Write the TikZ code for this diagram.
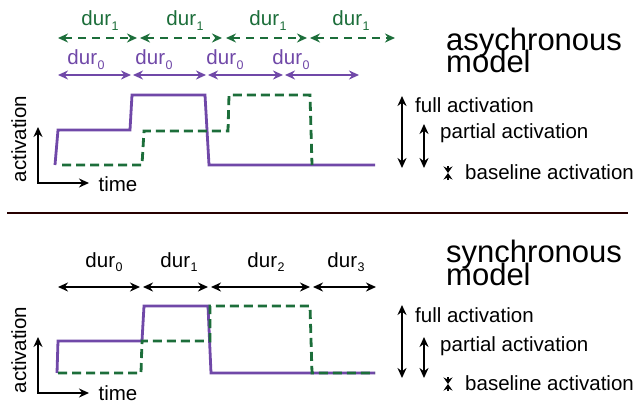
\documentclass[tikz,border=0pt]{standalone}
\usepackage{fontspec}
\setmainfont{Liberation Sans}
\usetikzlibrary{arrows.meta}
\definecolor{pur}{RGB}{112,72,168}
\definecolor{grn}{RGB}{28,110,58}
\newcommand\sbx[1]{\hspace{0.5pt}\raisebox{-0.45ex}{\fontsize{12.5}{12.5}\selectfont #1}}
\newcommand\ttlfont{\fontsize{31}{22.5}\selectfont\lineskiplimit -60pt\relax\lineskip 0pt\relax}
\begin{document}
\begin{tikzpicture}[x=1pt,y=-1pt,
  lbl/.style={inner sep=0pt,anchor=base,font=\fontsize{20.5}{20.5}\selectfont},
  leg/.style={inner sep=0pt,anchor=base west,font=\fontsize{20.5}{20.5}\selectfont},
  ttl/.style={inner sep=0pt,anchor=base west,align=left,font=\ttlfont},
  dbl/.style={{Stealth[length=10pt,width=9pt]}-{Stealth[length=10pt,width=9pt]}},
  garr/.style={dbl,grn,line width=2.2pt,dash pattern=on 8pt off 6pt},
  parr/.style={dbl,pur,line width=2pt},
  barr/.style={dbl,black,line width=2pt},
  axis/.style={dbl,black,line width=2.2pt},
  pcurve/.style={pur,line width=2.8pt,line join=miter},
  gcurve/.style={grn,line width=2.8pt,dash pattern=on 9pt off 5pt},
  legarr/.style={dbl,black,line width=2pt},
  hg/.style={-{Stealth[length=6.5pt,width=9pt]},black,line width=1.2pt}]
\useasboundingbox (0,0) rectangle (637,404);
\fill[white] (0,0) rectangle (637,404);

% ---------- top panel ----------
\foreach \n/\a/\b in {1/58/137,2/140/222,3/226/307,4/310/395}{
  \coordinate (ga\n) at (\a,38); \coordinate (gb\n) at (\b,38);
  \draw[garr] (ga\n) -- (gb\n);}
\foreach \n/\x in {1/100,2/185,3/268,4/351}{
  \node[lbl,text=grn] (gl\n) at (\x,26) {dur\sbx{1}};}
\foreach \n/\a/\b in {1/58/131,2/133/206,3/208/283,4/285/359}{
  \coordinate (pa\n) at (\a,75); \coordinate (pb\n) at (\b,75);
  \draw[parr] (pa\n) -- (pb\n);}
\foreach \n/\x in {1/86,2/154,3/225,4/291}{
  \node[lbl,text=pur] (pl\n) at (\x,65) {dur\sbx{0}};}

\draw[pcurve] (55,165) -- (58,130) -- (130,130) -- (132,95) -- (205,95) -- (209,165) -- (375,165);
\draw[gcurve] (62,165) -- (142,165) -- (144,131) -- (228,131) -- (229,95) -- (310,95) -- (312,165);

\coordinate (ay1) at (38,127); \coordinate (ao1) at (38,183); \coordinate (ax1) at (89,183);
\draw[axis] (ay1) -- (ao1) -- (ax1);
\node[lbl] (time1) at (118,191) {time};
\node[lbl,rotate=90,anchor=base] (act1) at (26,139) {activation};

\node[ttl] (title1) at (446,73) {asychronous\\model};

\coordinate (fa1) at (402,96); \coordinate (fb1) at (402,168);
\draw[legarr] (fa1) -- (fb1);
\coordinate (ma1) at (424,124); \coordinate (mb1) at (424,168);
\draw[legarr] (ma1) -- (mb1);
\coordinate (ht1) at (448,166); \coordinate (hm1) at (448,173); \coordinate (hb1) at (448,180);
\draw[hg] (ht1) -- (hm1); \draw[hg] (hb1) -- (hm1);
\node[leg] (full1) at (415,112) {full activation};
\node[leg] (part1) at (440,138) {partial activation};
\node[leg] (base1) at (465,179) {baseline activation};

% ---------- separator ----------
\coordinate (s1) at (7,213); \coordinate (s2) at (628,213);
\draw[line width=1.3pt,black!85!red] (s1) -- (s2);

% ---------- bottom panel ----------
\foreach \n/\a/\b in {1/58/140,2/143/208,3/211/310,4/313/376}{
  \coordinate (ba\n) at (\a,287); \coordinate (bb\n) at (\b,287);
  \draw[barr] (ba\n) -- (bb\n);}
\node[lbl] (bl1) at (104,267) {dur\sbx{0}};
\node[lbl] (bl2) at (179,267) {dur\sbx{1}};
\node[lbl] (bl3) at (266,267) {dur\sbx{2}};
\node[lbl] (bl4) at (346,267) {dur\sbx{3}};

\draw[pcurve] (57,373) -- (58,341) -- (142,341) -- (144,306) -- (208,306) -- (211,373) -- (375,373);
\draw[gcurve] (58,373) -- (141,373) -- (142,341) -- (210,341) -- (210,306) -- (310,306) -- (312,373) -- (375,373);

\coordinate (ay2) at (38,337); \coordinate (ao2) at (38,393); \coordinate (ax2) at (89,393);
\draw[axis] (ay2) -- (ao2) -- (ax2);
\node[lbl] (time2) at (118,400) {time};
\node[lbl,rotate=90,anchor=base] (act2) at (26,350) {activation};

\node[ttl] (title2) at (446,285) {synchronous\\model};

\coordinate (fa2) at (402,305); \coordinate (fb2) at (402,378);
\draw[legarr] (fa2) -- (fb2);
\coordinate (ma2) at (424,337); \coordinate (mb2) at (424,378);
\draw[legarr] (ma2) -- (mb2);
\coordinate (ht2) at (448,377); \coordinate (hm2) at (448,384); \coordinate (hb2) at (448,391);
\draw[hg] (ht2) -- (hm2); \draw[hg] (hb2) -- (hm2);
\node[leg] (full2) at (415,322) {full activation};
\node[leg] (part2) at (440,351) {partial activation};
\node[leg] (base2) at (465,390) {baseline activation};
\end{tikzpicture}
\end{document}
